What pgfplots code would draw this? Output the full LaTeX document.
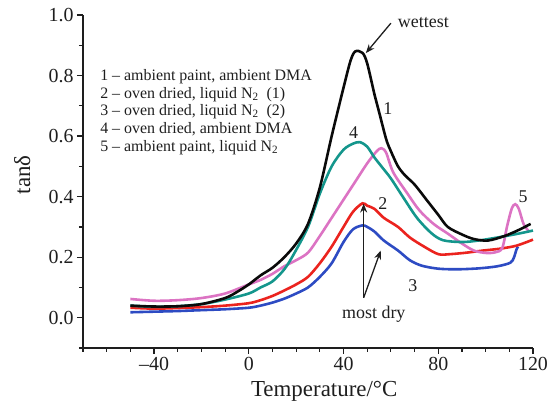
\documentclass[border=0pt]{standalone}
\usepackage{fontspec}
\setmainfont{Liberation Serif}
\usepackage{pgfplots}
\pgfplotsset{compat=1.18}
\usetikzlibrary{arrows.meta}

\definecolor{txt}{RGB}{30,30,30}
\definecolor{c1}{RGB}{10,10,10}
\definecolor{c2}{RGB}{235,35,30}
\definecolor{c3}{RGB}{45,75,195}
\definecolor{c4}{RGB}{20,150,140}
\definecolor{c5}{RGB}{220,115,195}

\begin{document}
\begin{tikzpicture}
\begin{axis}[
    at={(0,0)}, anchor=south west,
    scale only axis, width=450bp, height=333bp,
    xmin=-70, xmax=120, ymin=-0.1, ymax=1.0,
    axis lines*=left,
    axis line style={line width=1.2pt, txt},
    tick align=outside,
    major tick length=6bp, minor tick length=4bp,
    tick style={line width=1.2pt, txt},
    xtick={-40,0,40,80,120},
    xticklabels={–40,0,40,80,120},
    minor xtick={-70,-60,...,110},
    ytick={0,0.2,0.4,0.6,0.8,1.0},
    minor ytick={-0.1,0.1,0.3,0.5,0.7,0.9},
    yticklabel style={/pgf/number format/fixed, /pgf/number format/fixed zerofill, /pgf/number format/precision=1},
    /pgf/number format/assume math mode=true,
    tick label style={font=\fontsize{20}{22}\selectfont, text=txt},
    xlabel={Temperature/°C},
    ylabel={tanδ},
    label style={font=\fontsize{23}{26}\selectfont, text=txt},
    xlabel style={at={(axis description cs:0.536,-0.13)}, anchor=center},
    ylabel style={at={(axis description cs:-0.135,0.52)}, anchor=center},
    clip=false,
    every axis plot/.append style={line width=2.6pt, smooth, no markers},
]

% 3 - oven dried, liquid N2 (2)
\addplot[c3] coordinates {
(-50,0.018) (-40,0.02) (-30,0.022) (-20,0.025) (-10,0.028) (0,0.033) (5,0.04)
(10,0.05) (15,0.063) (20,0.08) (25,0.1) (30,0.135) (35,0.18) (40,0.25)
(44,0.292) (48,0.305) (50,0.30) (53,0.285) (57,0.255) (63,0.222) (68,0.19)
(73,0.172) (80,0.162) (88,0.16) (97,0.163) (105,0.17) (110.5,0.182)
(112,0.2) (113,0.225) (113.7,0.235)
};

% 2 - oven dried, liquid N2 (1)
\addplot[c2] coordinates {
(-50,0.033) (-40,0.03) (-30,0.032) (-20,0.035) (-10,0.04) (0,0.048) (5,0.058)
(10,0.072) (15,0.09) (20,0.11) (25,0.135) (30,0.18) (35,0.235) (40,0.30)
(44,0.35) (48,0.378) (50,0.37) (53,0.36) (57,0.33) (63,0.30) (68,0.265)
(74,0.235) (80,0.21) (85,0.21) (92,0.215) (99,0.222) (106,0.228)
(113,0.238) (120,0.258)
};

% 5 - ambient paint, liquid N2
\addplot[c5] coordinates {
(-50,0.062) (-40,0.056) (-30,0.058) (-20,0.065) (-10,0.08) (0,0.11) (5,0.125)
(10,0.145) (15,0.17) (20,0.19) (25,0.215) (30,0.27) (35,0.33) (40,0.39)
(45,0.45) (50,0.51) (54,0.55) (56,0.56) (58,0.545) (61,0.48) (67,0.41)
(72,0.355) (78,0.31) (84,0.278) (90,0.245) (95,0.222) (100,0.214)
(104,0.216) (107,0.23) (109,0.3) (111,0.36) (112.5,0.375) (114,0.36)
(116,0.31) (118,0.288)
};

% 4 - oven dried, ambient DMA
\addplot[c4] coordinates {
(-50,0.04) (-40,0.036) (-30,0.038) (-20,0.045) (-10,0.06) (0,0.08) (5,0.1)
(10,0.12) (15,0.16) (19,0.21) (25,0.3) (30,0.41) (35,0.5) (40,0.555)
(44,0.575) (47,0.58) (50,0.565) (53,0.53) (56,0.5) (60,0.46) (65,0.4)
(71,0.33) (77,0.28) (82,0.256) (90,0.25) (97,0.255) (105,0.265)
(114,0.278) (120,0.288)
};

% 1 - ambient paint, ambient DMA
\addplot[c1] coordinates {
(-50,0.04) (-40,0.037) (-30,0.038) (-20,0.045) (-10,0.065) (-5,0.085)
(0,0.11) (5,0.14) (10,0.165) (15,0.2) (20,0.245) (25,0.31) (30,0.43)
(35,0.6) (40,0.76) (43,0.85) (45,0.88) (48,0.875) (50,0.84) (53,0.74)
(55,0.68) (58,0.59) (60,0.55) (63,0.5) (66,0.47) (70,0.44) (75,0.39)
(80,0.34) (84,0.3) (90,0.275) (95,0.26) (101,0.255) (108,0.27)
(114,0.29) (119,0.31)
};

% legend block
\begin{scope}[every node/.style={anchor=base west, font=\fontsize{16}{18}\selectfont, text=txt, inner sep=0pt}]
\node at (axis cs:-62.8,0.785) {1 – ambient paint, ambient DMA};
\node at (axis cs:-62.8,0.725) {2 – oven dried, liquid N\textsubscript{2}~ (1)};
\node at (axis cs:-62.8,0.669) {3 – oven dried, liquid N\textsubscript{2}~ (2)};
\node at (axis cs:-62.8,0.609) {4 – oven dried, ambient DMA};
\node at (axis cs:-62.8,0.550) {5 – ambient paint, liquid N\textsubscript{2}};
\end{scope}

% annotations
\begin{scope}[every node/.style={font=\fontsize{18}{20}\selectfont, text=txt}]
\node at (axis cs:58.7,0.69) {1};
\node at (axis cs:44.3,0.613) {4};
\node at (axis cs:56.6,0.377) {2};
\node at (axis cs:115.8,0.40) {5};
\node at (axis cs:69.3,0.106) {3};
\node at (axis cs:52.8,0.013) {most dry};
\node[anchor=base west] at (axis cs:61.5,0.958) {wettest};
\end{scope}
\draw[line width=1.3pt, txt, -{Stealth[length=9pt,width=7pt]}] (axis cs:60,0.973) -- (axis cs:49.4,0.874);
\draw[line width=1.3pt, txt, -{Stealth[length=9pt,width=7pt]}] (axis cs:48.5,0.066) -- (axis cs:48.5,0.377);
\draw[line width=1.3pt, txt, -{Stealth[length=9pt,width=7pt]}] (axis cs:48.5,0.066) -- (axis cs:55.7,0.222);

\end{axis}
\pgfresetboundingbox
\path (-83bp,-62bp) rectangle (472bp,348bp);
\end{tikzpicture}
\end{document}
